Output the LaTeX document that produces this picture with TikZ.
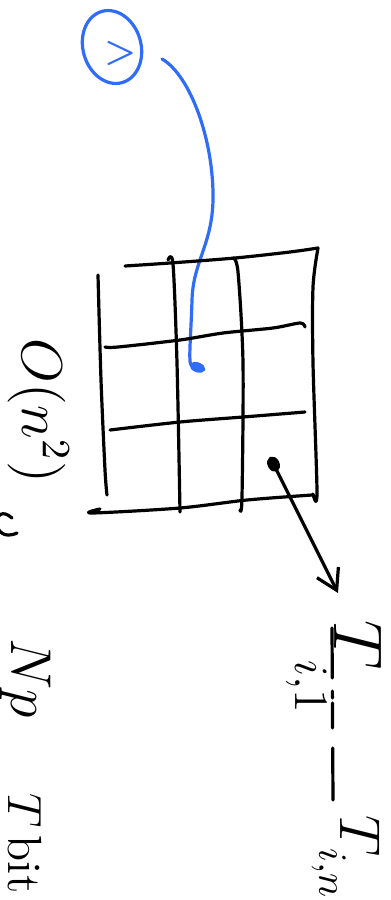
\documentclass[tikz,border=0pt]{standalone}
\usepackage{xcolor}
\usetikzlibrary{shapes,arrows.meta,positioning,calc,shapes.geometric}

\definecolor{penblue}{RGB}{48,108,250}

\begin{document}
\begin{tikzpicture}[
    x=0.25pt, y=-0.25pt,
    gridline/.style={line width=0.8pt, line cap=round, line join=round},
    bluepen/.style={draw=penblue, line width=0.8pt, line cap=round, line join=round},
    note/.style={rotate=-90, anchor=base west, inner sep=0pt, font=\Large},
    arrow/.style={gridline, {Ellipse[length=4pt,width=3pt]}-{Straight Barb[length=5pt,width=6pt]}}
]
\useasboundingbox (0,0) rectangle (390,900);
\clip (0,0) rectangle (390,900);

% Node v and its path into the grid
\node[bluepen, ellipse, minimum width=14.5pt, minimum height=18.5pt, inner sep=0pt, rotate=16] (vnode) at (112,47) {};
\node[text=penblue, font=\small\bfseries, inner sep=0pt] (vname) at (121,53) {>};
\coordinate (vtail) at (162,59);
\coordinate (cellmid) at (205,370);
\draw[bluepen, -{Ellipse[length=4pt,width=2.5pt]}] (vtail) .. controls (190,75) and (214,140) .. (213,200)
    .. controls (212,245) and (193,262) .. (192,300) .. controls (191,335) and (188,364) .. (cellmid);

% Grid
\draw[gridline] plot[smooth] coordinates {(125,266) (170,263) (235,258) (290,252) (318,248)};
\draw[gridline] plot[smooth] coordinates {(105,347) (118,347) (180,340) (223,333) (273,328) (300,323) (305,327)};
\draw[gridline] plot[smooth] coordinates {(110,430) (180,422) (243,417) (305,412)};
\draw[gridline] plot[smooth] coordinates {(100,509) (92,513) (180,508) (247,500) (312,495)};
\draw[gridline] plot[smooth] coordinates {(98,275) (101,380) (105,470) (107,495)};
\draw[gridline] plot[smooth] coordinates {(168,260) (173,264) (177,363) (180,512)};
\draw[gridline] plot[smooth] coordinates {(233,258) (238,272) (243,363) (242,497) (240,510)};
\draw[gridline] plot[smooth] coordinates {(318,248) (313,287) (313,363) (317,493) (313,494)};

% Labels
\node[note] (cost) at (22,338) {$O(n^2)$};
\node[note] (np) at (11,638) {$Np$};
\node[note, font=\large] (tbits) at (8,793) {$T$\,bit};
\node[note, font=\LARGE] (ti1) at (334,620) {$T_{\raisebox{-7pt}{$\scriptstyle i,1$}}$};
\node[note] (tin) at (340,815) {$T_{\raisebox{-3pt}{$\scriptstyle i,n$}}$};

% Cell to row
\coordinate (cellbr) at (270,457);
\coordinate (rowtip) at (338,593);
\draw[arrow] (cellbr) -- (rowtip);

% Row of entries
\coordinate (rowA) at (332,628);
\coordinate (rowB) at (333,800);
\draw[gridline, dash pattern=on 12.5pt off 3.25pt on 1.75pt off 1.25pt on 6.25pt off 5pt on 14pt] (rowA) -- (rowB);

% Cut-off stroke at the edge
\draw[gridline] (12,518) .. controls (-8,500) and (-10,545) .. (17,533);

\end{tikzpicture}
\end{document}
